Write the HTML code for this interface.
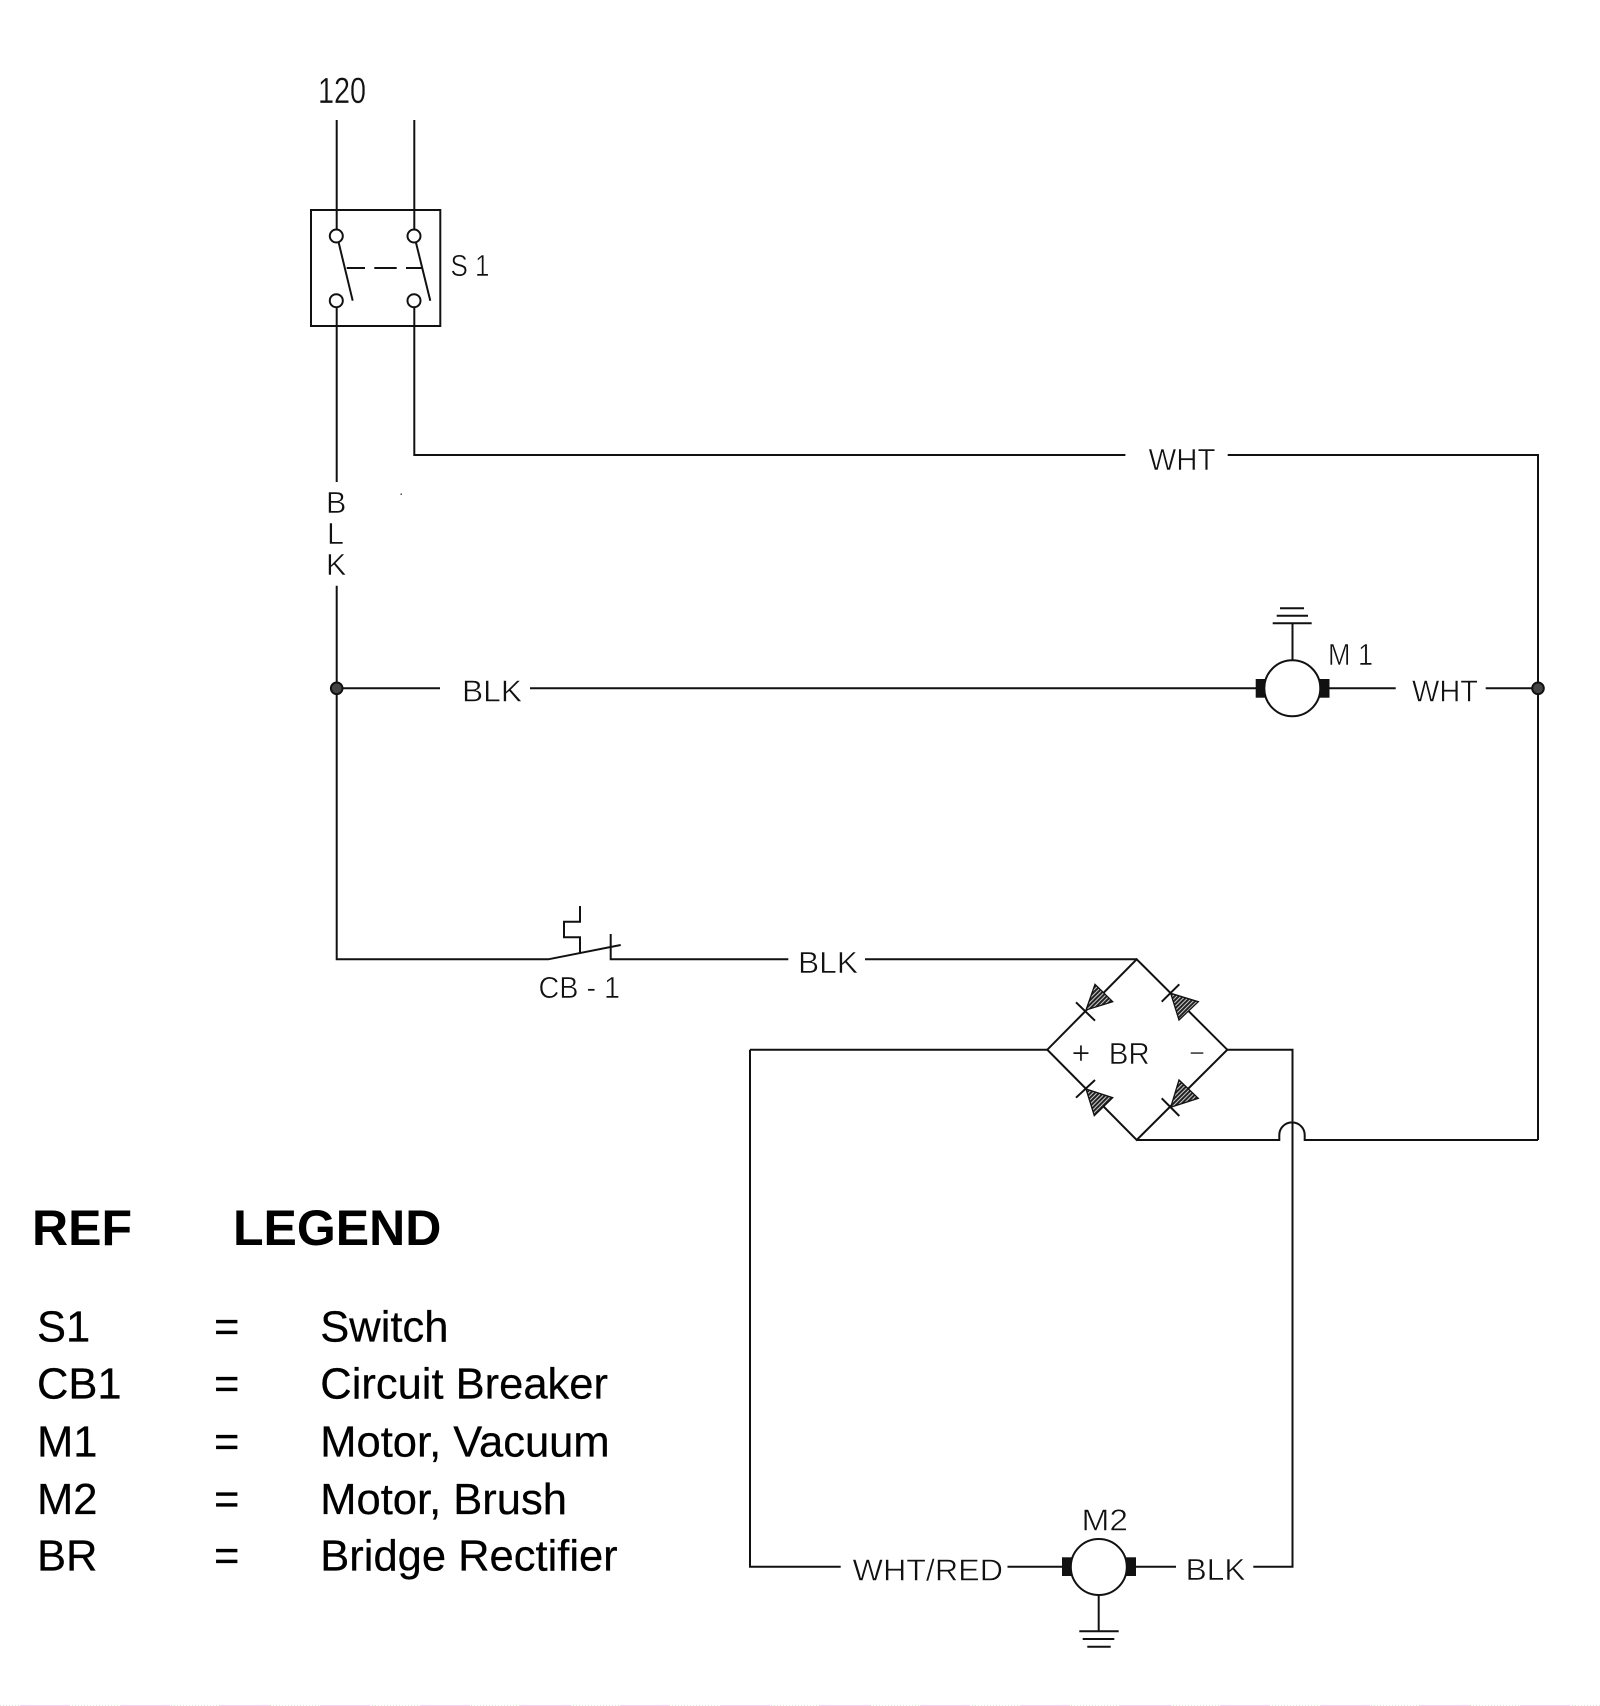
<!DOCTYPE html>
<html>
<head>
<meta charset="utf-8">
<style>
html,body{margin:0;padding:0;background:#fff;width:1600px;height:1706px;overflow:hidden}
svg{display:block}
.w{fill:none;stroke:#111;stroke-width:2}
.c{font-family:"Liberation Sans",sans-serif;font-size:30.5px;fill:#111;stroke:#fff;stroke-width:.55}
.l{font-family:"Liberation Sans",sans-serif;font-size:43.5px;fill:#000;stroke:#000;stroke-width:.25}
.b{font-family:"Liberation Sans",sans-serif;font-size:50px;font-weight:bold;fill:#000}
</style>
</head>
<body>
<svg width="1600" height="1706" viewBox="0 0 1600 1706" xmlns="http://www.w3.org/2000/svg">
<defs>
<pattern id="h" width="3" height="3" patternUnits="userSpaceOnUse" patternTransform="rotate(45)">
<rect width="3" height="3" fill="#222"/><rect width="1" height="3" fill="#ccc"/>
</pattern>
</defs>
<rect width="1600" height="1706" fill="#fff"/>

<!-- Switch S1 -->
<rect class="w" x="311" y="210" width="129.3" height="116"/>
<path class="w" d="M336.7 120V229.5M414.3 120V229.5M336.7 307V482M414.3 307V455H1125.4M1227.7 455H1538V1140"/>
<circle class="w" cx="336.3" cy="236" r="6.5"/>
<circle class="w" cx="414" cy="236" r="6.5"/>
<circle class="w" cx="336.3" cy="300.7" r="6.5"/>
<circle class="w" cx="414" cy="300.7" r="6.5"/>
<path class="w" d="M338.7 242.7L352.7 300.7M416 242.7L430.3 300.7M346.7 268H365M374.3 268H396.7M406 268H422.7"/>

<!-- Left bus -->
<path class="w" d="M336.7 585.7V959.3H548.3L620.7 945M336.7 688.3H440M530 688.3H1256M1329 688.3H1395.7M1485.7 688.3H1538"/>
<circle cx="336.7" cy="688.3" r="5.8" fill="#444" stroke="#111" stroke-width="2"/>
<circle cx="1538" cy="688.3" r="5.8" fill="#444" stroke="#111" stroke-width="2"/>
<rect x="400.5" y="493.5" width="1.4" height="1.4" fill="#333"/>

<!-- M1 -->
<path class="w" d="M1280 608.3H1304M1276.7 615.7H1308M1272.7 623.3H1311.7M1292.5 623.3V660"/>
<rect x="1255.7" y="679" width="10" height="18.7" fill="#111"/>
<rect x="1319.5" y="679" width="10" height="18.7" fill="#111"/>
<circle class="w" cx="1292.3" cy="688.3" r="28" style="fill:#fff"/>

<!-- CB-1 -->
<path class="w" d="M580 952.7V937.3H564V921.7H580V906M610.7 934V959.3H788.3M865 959.3H1136.7"/>

<!-- Bridge rectifier -->
<path class="w" d="M1136.7 959.3L1227.3 1049.7L1136.7 1140L1047.3 1049.7Z"/>
<path class="w" d="M750 1049.7H1047.3M1227.3 1049.7H1292.5V1566.7H1253.3M1136.7 1140H1279.3V1135A12.7 12.7 0 0 1 1304.7 1135V1140H1538"/>
<g fill="url(#h)" stroke="#111" stroke-width="1.3">
<path d="M1095 984.3L1112.7 1001.7L1086 1010Z"/>
<path d="M1170.7 993.3L1198.3 1001.7L1179 1020Z"/>
<path d="M1086 1089L1112.7 1097.7L1094.3 1115.7Z"/>
<path d="M1170.7 1107.3L1179 1080L1198.3 1098.3Z"/>
</g>
<path class="w" d="M1076 1002.3L1095 1020.7M1161.7 1001.7L1179.3 984.3M1076 1097.7L1095 1080M1161.7 1098.3L1179.3 1116"/>

<!-- M2 -->
<path class="w" d="M750 1049.7V1566.7H840.7M1007.5 1566.7H1062M1136 1566.7H1176M1098.7 1595V1631.3M1079.3 1631.3H1118.7M1082.7 1639H1114.3M1087.3 1646.7H1110.7"/>
<rect x="1062" y="1557.3" width="10" height="18.7" fill="#111"/>
<rect x="1126" y="1557.3" width="10" height="18.7" fill="#111"/>
<circle class="w" cx="1098.8" cy="1567" r="28" style="fill:#fff"/>

<!-- CAD labels -->
<text class="c" x="318" y="103" style="font-size:36px;stroke-width:.3" textLength="48" lengthAdjust="spacingAndGlyphs">120</text>
<text class="c" x="450.5" y="276" textLength="39" lengthAdjust="spacingAndGlyphs">S 1</text>
<text class="c" x="1148.5" y="470" textLength="67" lengthAdjust="spacingAndGlyphs">WHT</text>
<text class="c" x="326" y="513">B</text>
<text class="c" x="327" y="544">L</text>
<text class="c" x="326" y="575">K</text>
<text class="c" x="462" y="701.7" textLength="60" lengthAdjust="spacingAndGlyphs">BLK</text>
<text class="c" x="1328" y="665" textLength="45" lengthAdjust="spacingAndGlyphs">M 1</text>
<text class="c" x="1412" y="701.7" textLength="66" lengthAdjust="spacingAndGlyphs">WHT</text>
<text class="c" x="538.5" y="998" textLength="81.5" lengthAdjust="spacingAndGlyphs">CB - 1</text>
<text class="c" x="798" y="973" textLength="60" lengthAdjust="spacingAndGlyphs">BLK</text>
<text class="c" x="1081" y="1064" text-anchor="middle" style="font-size:32px">+</text>
<text class="c" x="1108.7" y="1064" textLength="41" lengthAdjust="spacingAndGlyphs">BR</text>
<text class="c" x="1197" y="1062" text-anchor="middle" style="font-size:27px">−</text>
<text class="c" x="852.5" y="1580.7" textLength="150.5" lengthAdjust="spacingAndGlyphs">WHT/RED</text>
<text class="c" x="1081.5" y="1530.7" textLength="46.5" lengthAdjust="spacingAndGlyphs">M2</text>
<text class="c" x="1185.7" y="1580" textLength="59.8" lengthAdjust="spacingAndGlyphs">BLK</text>

<!-- Legend -->
<text class="b" x="32" y="1245">REF</text>
<text class="b" x="233" y="1245">LEGEND</text>
<text class="l" x="37" y="1341.7">S1</text>
<text class="l" x="37" y="1398.3">CB1</text>
<text class="l" x="37" y="1456.5">M1</text>
<text class="l" x="37" y="1514">M2</text>
<text class="l" x="37" y="1570.7">BR</text>
<text class="l" x="214" y="1341.7">=</text>
<text class="l" x="214" y="1398.3">=</text>
<text class="l" x="214" y="1456.5">=</text>
<text class="l" x="214" y="1514">=</text>
<text class="l" x="214" y="1570.7">=</text>
<text class="l" x="320.3" y="1341.7">Switch</text>
<text class="l" x="320.3" y="1398.3">Circuit Breaker</text>
<text class="l" x="320.3" y="1456.5">Motor, Vacuum</text>
<text class="l" x="320.3" y="1514">Motor, Brush</text>
<text class="l" x="320.3" y="1570.7">Bridge Rectifier</text>

<!-- bottom edge artefact -->
<line x1="0" y1="1705.5" x2="1600" y2="1705.5" stroke="#ddd" stroke-width="1" stroke-dasharray="1 2"/>
<line x1="20" y1="1705.5" x2="1600" y2="1705.5" stroke="#f6d0f6" stroke-width="1" stroke-dasharray="50 50"/>
</svg>
</body>
</html>
